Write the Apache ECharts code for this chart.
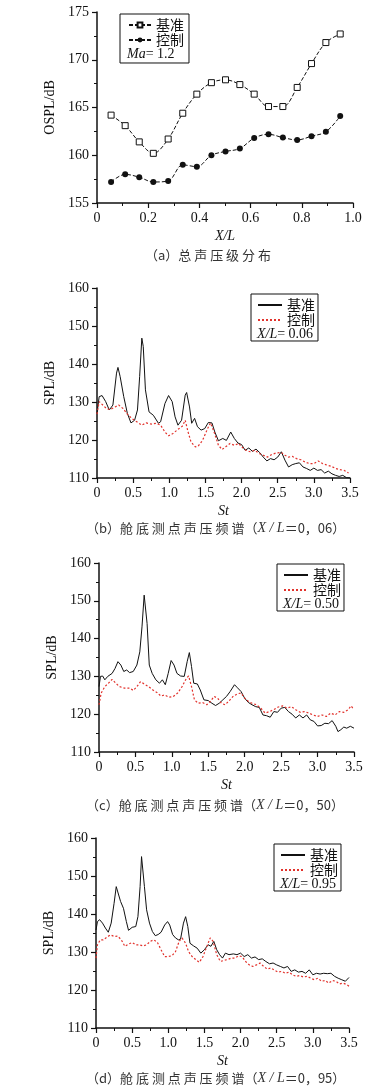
<!DOCTYPE html>
<html>
<head>
<meta charset="utf-8">
<script src="https://cdn.jsdelivr.net/npm/echarts@6/dist/echarts.min.js"></script>
<style>
  html, body { margin: 0; padding: 0; background: #fff; }
  #main { width: 389px; height: 1090px; }
</style>
</head>
<body>
<div id="main"></div>
<script>
// (a) 总声压级分布
const xA = [0.055, 0.11, 0.165, 0.22, 0.278, 0.335, 0.39, 0.447, 0.502, 0.558, 0.614, 0.67, 0.726, 0.782, 0.838, 0.894, 0.95];
const baseA = [164.2, 163.1, 161.4, 160.2, 161.7, 164.4, 166.4, 167.6, 167.9, 167.4, 166.4, 165.1, 165.1, 167.1, 169.6, 171.8, 172.7];
const ctrlA = [157.2, 158.0, 157.7, 157.2, 157.3, 159.0, 158.8, 160.0, 160.4, 160.7, 161.8, 162.2, 161.85, 161.6, 162.0, 162.45, 164.1];

// (b) X/L = 0.06
const stB1 = [0, 0.03, 0.07, 0.12, 0.17, 0.22, 0.27, 0.29, 0.32, 0.37, 0.42, 0.47, 0.52, 0.56, 0.59, 0.62, 0.64, 0.67, 0.72, 0.78, 0.85, 0.88, 0.94, 0.99, 1.04, 1.08, 1.12, 1.17, 1.22, 1.24, 1.28, 1.31, 1.35, 1.39, 1.44, 1.49, 1.54, 1.59, 1.63, 1.68, 1.74, 1.79, 1.85, 1.9, 1.95, 2.0, 2.05, 2.1, 2.15, 2.2, 2.25, 2.3, 2.35, 2.4, 2.45, 2.5, 2.55, 2.6, 2.65, 2.7, 2.75, 2.8, 2.85, 2.9, 2.95, 3.0, 3.05, 3.1, 3.15, 3.2, 3.25, 3.3, 3.35, 3.4, 3.45, 3.5];
const baseB = [127.0, 131.4, 131.7, 130.1, 127.9, 129.2, 137.6, 139.1, 136.7, 131.4, 127.0, 124.5, 125.2, 127.9, 136.7, 146.8, 144.6, 133.2, 127.4, 126.5, 124.4, 124.8, 129.6, 131.7, 130.1, 126.1, 123.9, 125.2, 131.8, 132.5, 128.7, 124.4, 125.7, 123.5, 122.6, 123.0, 124.6, 124.5, 122.1, 119.8, 120.4, 119.9, 122.1, 120.4, 119.2, 118.8, 117.3, 117.9, 117.0, 117.6, 116.7, 115.5, 114.5, 115.1, 114.8, 115.5, 116.9, 114.7, 112.9, 113.5, 113.8, 114.0, 112.9, 112.5, 112.0, 112.6, 112.0, 112.2, 111.3, 111.8, 111.1, 110.7, 110.4, 110.7, 110.1, 110.0];
const stB2 = [0, 0.03, 0.08, 0.13, 0.18, 0.25, 0.3, 0.36, 0.42, 0.48, 0.55, 0.62, 0.68, 0.75, 0.82, 0.88, 0.94, 0.99, 1.05, 1.12, 1.18, 1.22, 1.26, 1.3, 1.36, 1.4, 1.46, 1.53, 1.57, 1.62, 1.68, 1.73, 1.78, 1.84, 1.9, 1.96, 2.0, 2.06, 2.12, 2.18, 2.25, 2.3, 2.36, 2.42, 2.48, 2.55, 2.6, 2.65, 2.7, 2.76, 2.82, 2.88, 2.94, 3.0, 3.06, 3.12, 3.18, 3.24, 3.3, 3.36, 3.42, 3.48];
const ctrlB = [126.8, 130.1, 129.2, 128.3, 128.0, 128.7, 129.2, 128.3, 126.8, 125.7, 124.8, 123.9, 124.5, 124.2, 124.4, 123.9, 122.1, 121.1, 121.7, 122.8, 123.6, 125.2, 122.1, 119.5, 118.2, 118.4, 119.9, 123.0, 124.5, 122.1, 118.6, 117.5, 118.2, 119.1, 118.6, 119.1, 118.2, 117.3, 116.9, 117.3, 116.4, 116.0, 115.5, 116.2, 116.6, 116.7, 116.0, 115.5, 115.7, 115.1, 114.8, 114.2, 113.8, 113.8, 114.5, 113.8, 113.4, 113.1, 112.5, 112.2, 112.0, 111.3];

// (c) X/L = 0.50
const stC1 = [0, 0.02, 0.05, 0.08, 0.12, 0.18, 0.22, 0.26, 0.3, 0.34, 0.38, 0.42, 0.47, 0.52, 0.56, 0.59, 0.62, 0.63, 0.66, 0.69, 0.73, 0.78, 0.83, 0.87, 0.91, 0.95, 0.99, 1.03, 1.07, 1.12, 1.17, 1.21, 1.24, 1.27, 1.3, 1.35, 1.39, 1.44, 1.5, 1.55, 1.6, 1.65, 1.7, 1.75, 1.8, 1.86, 1.9, 1.95, 2.0, 2.05, 2.1, 2.15, 2.2, 2.25, 2.3, 2.35, 2.4, 2.45, 2.5, 2.55, 2.6, 2.65, 2.7, 2.75, 2.8, 2.85, 2.9, 2.95, 3.0, 3.05, 3.1, 3.15, 3.2, 3.25, 3.28, 3.32, 3.36, 3.4, 3.45, 3.5];
const baseC = [127.3, 130.0, 130.1, 129.1, 130.0, 130.8, 132.1, 133.9, 133.0, 131.3, 131.7, 131.0, 131.3, 133.0, 136.5, 143.1, 151.5, 151.9, 144.0, 133.0, 130.8, 129.1, 128.2, 129.1, 127.8, 130.8, 134.2, 133.0, 130.8, 130.1, 130.0, 133.9, 136.3, 132.6, 128.2, 128.0, 126.4, 123.8, 123.6, 122.9, 122.3, 122.9, 123.8, 124.7, 126.0, 127.8, 127.0, 126.0, 124.2, 123.1, 122.5, 122.0, 121.8, 119.8, 119.6, 119.2, 120.7, 120.5, 121.6, 121.8, 120.7, 120.0, 119.0, 119.8, 119.0, 119.8, 118.5, 118.1, 116.9, 117.0, 117.6, 117.5, 118.3, 116.8, 115.4, 115.9, 116.6, 116.3, 116.8, 116.3];
const stC2 = [0, 0.03, 0.08, 0.13, 0.18, 0.23, 0.28, 0.35, 0.42, 0.47, 0.52, 0.57, 0.62, 0.68, 0.74, 0.8, 0.85, 0.9, 0.96, 1.02, 1.08, 1.14, 1.2, 1.23, 1.27, 1.31, 1.36, 1.42, 1.48, 1.53, 1.58, 1.63, 1.68, 1.73, 1.78, 1.84, 1.9, 1.95, 2.0, 2.05, 2.1, 2.16, 2.22, 2.28, 2.34, 2.4, 2.46, 2.52, 2.58, 2.64, 2.7, 2.76, 2.82, 2.88, 2.94, 3.0, 3.06, 3.12, 3.18, 3.24, 3.3, 3.36, 3.42, 3.46, 3.5];
const ctrlC = [122.5, 125.6, 127.3, 128.2, 129.2, 128.2, 127.3, 126.9, 126.9, 126.3, 127.3, 128.6, 128.0, 127.3, 126.4, 125.7, 124.8, 125.1, 124.5, 124.7, 125.6, 127.3, 129.5, 130.1, 127.3, 123.8, 122.9, 123.1, 122.5, 123.4, 124.7, 124.2, 122.9, 122.5, 123.4, 124.7, 125.4, 125.6, 124.2, 123.4, 122.9, 122.5, 121.6, 120.3, 120.7, 121.2, 121.9, 122.2, 121.6, 122.0, 121.2, 120.5, 120.7, 120.3, 119.8, 119.4, 119.8, 119.4, 120.3, 119.8, 120.7, 120.5, 121.2, 122.2, 121.2];

// (d) X/L = 0.95
const stD1 = [0, 0.02, 0.05, 0.09, 0.13, 0.17, 0.21, 0.25, 0.28, 0.3, 0.34, 0.38, 0.42, 0.45, 0.5, 0.55, 0.58, 0.61, 0.63, 0.64, 0.67, 0.7, 0.74, 0.78, 0.82, 0.86, 0.9, 0.95, 0.99, 1.02, 1.06, 1.1, 1.14, 1.17, 1.21, 1.24, 1.27, 1.3, 1.35, 1.4, 1.45, 1.5, 1.55, 1.59, 1.63, 1.67, 1.71, 1.75, 1.79, 1.84, 1.9, 1.95, 2.0, 2.05, 2.1, 2.15, 2.2, 2.25, 2.3, 2.35, 2.4, 2.45, 2.5, 2.55, 2.6, 2.65, 2.7, 2.75, 2.8, 2.85, 2.9, 2.95, 3.0, 3.05, 3.1, 3.15, 3.2, 3.25, 3.3, 3.35, 3.4, 3.45, 3.5];
const baseD = [135.8, 138.0, 138.5, 137.6, 136.3, 135.2, 137.6, 142.8, 147.2, 147.0, 143.3, 141.5, 138.0, 135.7, 136.5, 136.7, 139.3, 147.2, 155.1, 155.4, 147.2, 141.1, 137.6, 135.4, 134.3, 134.6, 135.2, 137.1, 138.0, 137.1, 134.6, 133.7, 133.2, 133.4, 137.6, 139.3, 136.7, 132.3, 131.6, 131.0, 129.7, 130.6, 131.9, 131.5, 132.8, 130.6, 129.3, 128.4, 129.7, 129.3, 129.5, 129.3, 129.7, 128.8, 129.3, 128.4, 128.7, 128.0, 128.2, 127.5, 126.9, 127.1, 126.6, 126.2, 125.8, 126.2, 124.9, 125.3, 124.7, 124.9, 124.4, 125.3, 124.0, 124.4, 124.2, 124.4, 124.3, 124.4, 123.6, 123.1, 122.7, 122.3, 123.3];
const stD2 = [0, 0.02, 0.06, 0.1, 0.15, 0.2, 0.25, 0.3, 0.35, 0.4, 0.45, 0.5, 0.55, 0.6, 0.65, 0.7, 0.75, 0.8, 0.85, 0.9, 0.95, 1.0, 1.05, 1.1, 1.15, 1.19, 1.24, 1.28, 1.33, 1.38, 1.43, 1.48, 1.53, 1.58, 1.62, 1.67, 1.72, 1.77, 1.82, 1.87, 1.92, 1.97, 2.02, 2.07, 2.12, 2.17, 2.22, 2.27, 2.32, 2.37, 2.42, 2.47, 2.52, 2.57, 2.62, 2.67, 2.72, 2.77, 2.82, 2.87, 2.92, 2.97, 3.02, 3.07, 3.12, 3.17, 3.22, 3.27, 3.32, 3.37, 3.42, 3.47, 3.5];
const ctrlD = [128.4, 131.9, 133.2, 133.2, 133.9, 134.5, 134.1, 134.2, 133.2, 131.5, 132.1, 132.5, 131.9, 131.9, 131.6, 131.9, 132.8, 133.2, 132.5, 130.6, 128.8, 128.8, 129.0, 130.1, 132.8, 133.7, 132.3, 130.1, 128.8, 128.0, 127.3, 128.8, 131.3, 133.7, 132.8, 129.3, 127.5, 127.8, 128.0, 128.4, 128.4, 129.0, 128.8, 127.5, 126.6, 126.2, 126.6, 127.1, 126.2, 125.5, 125.8, 125.2, 124.7, 124.9, 124.4, 124.7, 124.0, 123.6, 123.8, 123.4, 123.6, 123.1, 122.7, 123.1, 122.3, 122.5, 121.8, 122.5, 122.3, 121.6, 121.8, 121.4, 121.0];

const captions = [
  '（a）总 声 压 级 分 布',
  '（b）舱 底 测 点 声 压 频 谱（{i|X / L}＝0，06）',
  '（c）舱 底 测 点 声 压 频 谱（{i|X / L}＝0，50）',
  '（d）舱 底 测 点 声 压 频 谱（{i|X / L}＝0，95）'
];

const serif = 'Liberation Serif';
const cjk = 'Noto Sans CJK SC';
const black = '#111';
const red = '#e2322c';

function zip(xs, ys) {
  return xs.map((x, i) => [x, ys[i]]);
}

function xAxisOf(idx, max, interval, name) {
  return {
    type: 'value', gridIndex: idx, min: 0, max: max, interval: interval,
    name: name, nameLocation: 'middle', nameGap: 26,
    nameTextStyle: { fontFamily: serif, fontStyle: 'italic', fontSize: 14, color: black },
    axisLine: { onZero: false, lineStyle: { color: black, width: 1.5 } },
    axisTick: { length: 5, lineStyle: { color: black, width: 1.2 } },
    minorTick: { show: true, splitNumber: 2, length: 3, lineStyle: { color: black } },
    splitLine: { show: false },
    axisLabel: {
      fontFamily: serif, fontSize: 14, color: black, margin: 8,
      formatter: v => v === 0 ? '0' : v.toFixed(1)
    }
  };
}

function yAxisOf(idx, min, max, interval, name) {
  return {
    type: 'value', gridIndex: idx, min: min, max: max, interval: interval,
    name: name, nameLocation: 'middle', nameGap: 30, nameRotate: 90,
    nameTextStyle: { fontFamily: serif, fontSize: 14, color: black },
    axisLine: { show: true, onZero: false, lineStyle: { color: black, width: 1.5 } },
    axisTick: { show: true, length: 5, lineStyle: { color: black, width: 1.2 } },
    minorTick: { show: true, splitNumber: 2, length: 3, lineStyle: { color: black } },
    splitLine: { show: false },
    axisLabel: { fontFamily: serif, fontSize: 14, color: black, margin: 8 }
  };
}

function spectrum(idx, name, xs, ys, dotted) {
  return {
    type: 'line', name: name, xAxisIndex: idx, yAxisIndex: idx,
    data: zip(xs, ys), symbol: 'none', animation: false,
    lineStyle: dotted
      ? { color: red, width: 1.2, type: [2, 2] }
      : { color: black, width: 1 },
    itemStyle: { color: dotted ? red : black }
  };
}

function legendOf(left, top, names, pad, itemW, itemH, hideSymbol) {
  const lg = {
    left: left, top: top, orient: 'vertical',
    data: names, selectedMode: false,
    itemWidth: itemW, itemHeight: itemH, itemGap: 1,
    padding: pad,
    borderColor: black, borderWidth: 1, borderRadius: 0,
    formatter: n => n.slice(1),
    textStyle: { fontFamily: cjk, fontSize: 14, color: black }
  };
  if (hideSymbol) lg.itemStyle = { opacity: 0 };
  return lg;
}

function noteText(left, top, rest) {
  return {
    type: 'text', left: left, top: top,
    style: {
      text: rest, font: '14px "Liberation Serif"', fill: black,
      rich: { i: { fontStyle: 'italic', fontFamily: serif, fontSize: 14, fill: black } }
    }
  };
}

const chart = echarts.init(document.getElementById('main'), null, { renderer: 'canvas' });

const option = {
  backgroundColor: '#fff',
  animation: false,
  title: captions.map((t, i) => ({
    text: t, left: [145, 86, 86, 86][i], top: [249, 521, 798, 1071][i], padding: 0,
    textStyle: {
      fontFamily: cjk, fontSize: 13, fontWeight: 'normal', color: '#333',
      rich: { i: { fontStyle: 'italic', fontFamily: serif, fontSize: 14, color: '#333' } }
    }
  })),
  grid: [
    { left: 97, top: 12, width: 256, height: 191 },
    { left: 97, top: 288, width: 253, height: 190 },
    { left: 99, top: 563, width: 255, height: 189 },
    { left: 96, top: 838, width: 253, height: 190 }
  ],
  xAxis: [
    xAxisOf(0, 1, 0.2, 'X/L'),
    xAxisOf(1, 3.5, 0.5, 'St'),
    xAxisOf(2, 3.5, 0.5, 'St'),
    xAxisOf(3, 3.5, 0.5, 'St')
  ],
  yAxis: [
    yAxisOf(0, 155, 175, 5, 'OSPL/dB'),
    yAxisOf(1, 110, 160, 10, 'SPL/dB'),
    yAxisOf(2, 110, 160, 10, 'SPL/dB'),
    yAxisOf(3, 110, 160, 10, 'SPL/dB')
  ],
  legend: [
    legendOf(120, 14, ['a基准', 'a控制'], [4, 5, 16, 8], 22, 6, false),
    legendOf(251, 294, ['b基准', 'b控制'], [4, 3, 14, 6], 24, 10, true),
    legendOf(277, 564, ['c基准', 'c控制'], [4, 3, 14, 6], 24, 10, true),
    legendOf(274, 844, ['d基准', 'd控制'], [4, 3, 14, 6], 24, 10, true)
  ],
  graphic: [
    noteText(127, 47, '{i|Ma}= 1.2'),
    noteText(257, 327, '{i|X/L}= 0.06'),
    noteText(283, 597, '{i|X/L}= 0.50'),
    noteText(280, 877, '{i|X/L}= 0.95')
  ],
  series: [
    {
      type: 'line', name: 'a基准', xAxisIndex: 0, yAxisIndex: 0,
      data: zip(xA, baseA), smooth: 0.35,
      symbol: 'rect', symbolSize: 6,
      lineStyle: { color: black, width: 1, type: [4, 2] },
      itemStyle: { color: '#fff', borderColor: black, borderWidth: 1 }
    },
    {
      type: 'line', name: 'a控制', xAxisIndex: 0, yAxisIndex: 0,
      data: zip(xA, ctrlA), smooth: 0.35,
      symbol: 'circle', symbolSize: 6,
      lineStyle: { color: black, width: 1, type: [4, 2] },
      itemStyle: { color: black }
    },
    spectrum(1, 'b基准', stB1, baseB, false),
    spectrum(1, 'b控制', stB2, ctrlB, true),
    spectrum(2, 'c基准', stC1, baseC, false),
    spectrum(2, 'c控制', stC2, ctrlC, true),
    spectrum(3, 'd基准', stD1, baseD, false),
    spectrum(3, 'd控制', stD2, ctrlD, true)
  ]
};

chart.setOption(option);
</script>
</body>
</html>
